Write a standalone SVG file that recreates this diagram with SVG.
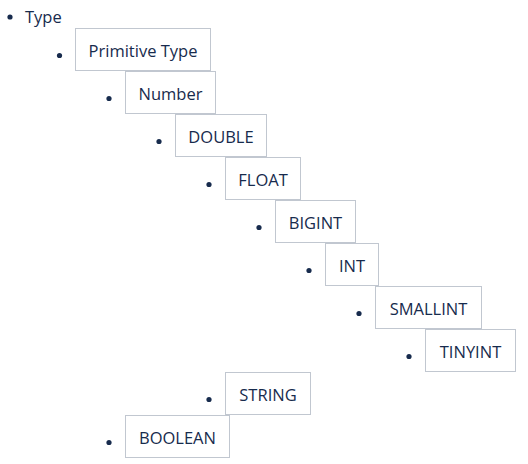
<svg xmlns="http://www.w3.org/2000/svg" width="528" height="464" viewBox="0 0 528 464">
<style>
.box{fill:#ffffff;stroke:#c1c7d0;stroke-width:1}
.t{font-family:"Open Sans","Noto Sans",sans-serif;font-size:16.5px;fill:#172b4d;text-anchor:middle}
.tl{font-family:"Open Sans","Noto Sans",sans-serif;font-size:16.5px;fill:#172b4d}
.dot{fill:#172b4d}
</style>
<rect width="528" height="464" fill="#ffffff"/>
<g id="connectors"></g>
<g id="n-type"><circle class="dot" cx="10" cy="17" r="2.6"/><text class="tl" x="25" y="23">Type</text></g>
<g id="n-primitive"><circle class="dot" cx="59.5" cy="55.5" r="2.6"/><rect class="box" x="75.5" y="28.5" width="135" height="42"/><text class="t" x="143" y="56.5">Primitive Type</text></g>
<g id="n-number"><circle class="dot" cx="109" cy="98.5" r="2.6"/><rect class="box" x="125.5" y="71.5" width="90" height="42"/><text class="t" x="170.5" y="99.5">Number</text></g>
<g id="n-double"><circle class="dot" cx="159" cy="141.5" r="2.6"/><rect class="box" x="175.5" y="114.5" width="91" height="42"/><text class="t" x="221" y="142.5">DOUBLE</text></g>
<g id="n-float"><circle class="dot" cx="209" cy="184.5" r="2.6"/><rect class="box" x="225.5" y="157.5" width="75" height="42"/><text class="t" x="263" y="185.5">FLOAT</text></g>
<g id="n-bigint"><circle class="dot" cx="259" cy="227.5" r="2.6"/><rect class="box" x="275.5" y="200.5" width="80" height="42"/><text class="t" x="315.5" y="228.5">BIGINT</text></g>
<g id="n-int"><circle class="dot" cx="309" cy="270.5" r="2.6"/><rect class="box" x="325.5" y="243.5" width="53" height="42"/><text class="t" x="352" y="271.5">INT</text></g>
<g id="n-smallint"><circle class="dot" cx="359" cy="313.5" r="2.6"/><rect class="box" x="375.5" y="286.5" width="106" height="42"/><text class="t" x="428.5" y="314.5">SMALLINT</text></g>
<g id="n-tinyint"><circle class="dot" cx="409" cy="356.5" r="2.6"/><rect class="box" x="425.5" y="329.5" width="90" height="42"/><text class="t" x="470.5" y="357.5">TINYINT</text></g>
<g id="n-string"><circle class="dot" cx="209" cy="399.5" r="2.6"/><rect class="box" x="225.5" y="372.5" width="85" height="42"/><text class="t" x="268" y="400.5">STRING</text></g>
<g id="n-boolean"><circle class="dot" cx="109" cy="442.5" r="2.6"/><rect class="box" x="125.5" y="415.5" width="104" height="42"/><text class="t" x="177.5" y="443.5">BOOLEAN</text></g>
</svg>
